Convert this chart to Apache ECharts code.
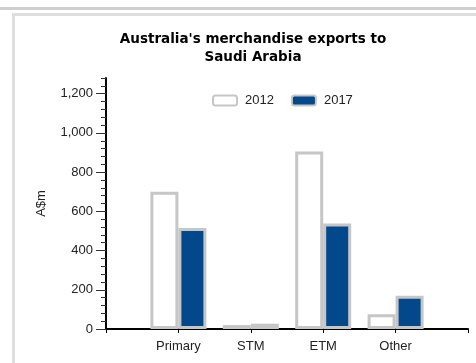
<!DOCTYPE html>
<html>
<head>
<meta charset="utf-8">
<script src="https://cdn.jsdelivr.net/npm/echarts@6/dist/echarts.min.js"></script>
<style>
  body { margin: 0; background: #fff; }
  .topline { position: absolute; left: 0; top: 7px; width: 476px; height: 3px; background: #cfcfcf; }
  .panel { position: absolute; left: 12px; top: 13px; width: 464px; height: 350px;
           border-left: 3px solid #dedede; border-top: 3px solid #dedede; box-sizing: border-box; }
  #chart { position: absolute; left: 0; top: 0; width: 476px; height: 363px; }
</style>
</head>
<body>
<div class="topline"></div>
<div class="panel"></div>
<div id="chart"></div>
<script>
// categories (blank ones pad the axis at both ends)
const categories = ['', 'Primary', 'STM', 'ETM', 'Other', '']
const exports2012 = [null, 700, 20, 905, 75, null]
const exports2017 = [null, 515, 27, 538, 170, null]
const majorTicks = [0, 200, 400, 600, 800, 1000, 1200]
const minorTicks = [0, 40, 80, 120, 160, 200, 240, 280, 320, 360, 400, 440, 480, 520, 560, 600,
  640, 680, 720, 760, 800, 840, 880, 920, 960, 1000, 1040, 1080, 1120, 1160, 1200, 1240, 1280]

const font = 'Liberation Sans, Arial, sans-serif'
const borderGrey = '#c6c6c6'

const chart = echarts.init(document.getElementById('chart'))
chart.setOption({
  animation: false,
  title: {
    text: "Australia's merchandise exports to\nSaudi Arabia",
    left: 248,
    top: 25,
    textAlign: 'center',
    textStyle: {
      fontFamily: 'DejaVu Sans, sans-serif',
      fontSize: 13.5,
      fontWeight: 'bold',
      color: '#000',
      lineHeight: 18
    }
  },
  legend: {
    left: 212,
    top: 94,
    padding: 0,
    itemWidth: 24,
    itemHeight: 10,
    itemGap: 17,
    textStyle: { fontFamily: font, fontSize: 13, color: '#222', padding: [0, 0, 0, 3] }
  },
  grid: { left: 106, right: 8, top: 78, bottom: 34 },
  xAxis: {
    type: 'category',
    data: categories,
    boundaryGap: false,
    axisLine: { lineStyle: { color: '#000', width: 2 } },
    axisTick: { show: true, length: 4, lineStyle: { color: '#000' } },
    axisLabel: { fontFamily: font, fontSize: 13, color: '#222', margin: 11, interval: 0 },
    splitLine: { show: false }
  },
  yAxis: [
    {
      type: 'value',
      min: 0,
      max: 1280,
      name: 'A$m',
      nameLocation: 'middle',
      nameGap: 58,
      nameTextStyle: { fontFamily: font, fontSize: 13, color: '#222' },
      axisLine: { show: true, lineStyle: { color: '#000', width: 2 } },
      axisTick: { show: true, length: 10, customValues: majorTicks, lineStyle: { color: '#333' } },
      axisLabel: {
        customValues: majorTicks,
        fontFamily: font,
        fontSize: 13,
        color: '#222',
        margin: 13,
        formatter: v => v.toLocaleString('en-US')
      },
      splitLine: { show: false }
    },
    {
      type: 'value',
      min: 0,
      max: 1280,
      position: 'left',
      axisLine: { show: false },
      axisTick: { show: true, length: 5, customValues: minorTicks, lineStyle: { color: '#333' } },
      axisLabel: { show: false },
      splitLine: { show: false }
    }
  ],
  series: [
    {
      name: '2012',
      type: 'bar',
      barWidth: 28,
      barGap: 0,
      data: exports2012,
      itemStyle: { color: '#fff', borderColor: borderGrey, borderWidth: 3 }
    },
    {
      name: '2017',
      type: 'bar',
      barWidth: 28,
      barGap: 0,
      data: exports2017,
      itemStyle: { color: '#02488a', borderColor: borderGrey, borderWidth: 3 }
    }
  ]
})
</script>
</body>
</html>
